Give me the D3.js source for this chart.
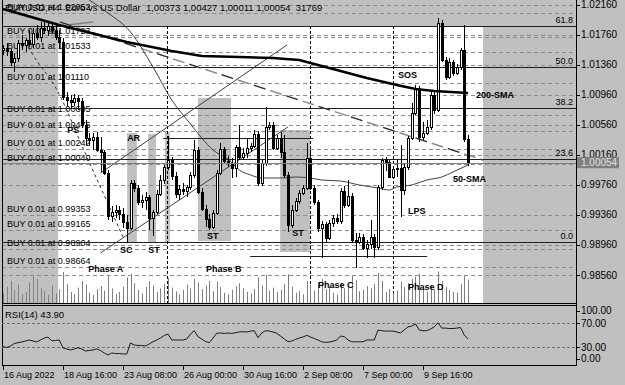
<!DOCTYPE html>
<html>
<head>
<meta charset="utf-8">
<script src="https://cdn.jsdelivr.net/npm/d3@7"></script>
<style>
  body { margin: 0; background: #c0c0c0; }
  svg { display: block; font-family: "Liberation Sans", Arial, sans-serif; }
</style>
</head>
<body>
<svg id="chart" width="625" height="385"></svg>
<script>
// EURUSD H4, one value per bar (16 Aug 2022 00:00 onwards)
const opens = [1.01554,1.01581,1.01541,1.01395,1.01448,1.01648,1.01621,1.01688,1.01634,1.01781,
  1.01728,1.01847,1.01821,1.01874,1.01821,1.01728,1.01661,1.00929,1.00889,1.00862,
  1.00916,1.00876,1.00556,1.00383,1.00357,1.00397,1.00223,1.00197,0.99917,0.99345,
  0.99398,0.99425,0.99372,0.99265,0.99185,0.99784,0.99718,0.99531,0.99558,0.99598,
  0.99318,0.99398,0.99638,0.99824,0.99997,1.00090,0.99877,0.99638,0.99704,0.99678,
  0.99731,0.99891,1.00223,0.99664,0.99438,0.99305,0.99199,0.99385,0.99917,1.00237,
  1.00077,1.00050,0.99984,1.00263,1.00130,1.00184,1.00250,1.00277,1.00436,0.99784,
  1.00050,1.00530,1.00556,1.00250,1.00383,1.00197,0.99891,0.99225,0.99425,0.99545,
  0.99651,0.99718,1.00117,0.99718,0.99531,0.99185,0.99239,0.99052,0.99252,0.99318,
  0.99278,0.99678,0.99491,0.99611,0.99026,0.98999,0.99066,0.98919,0.98972,0.99066,
  0.98932,0.99731,1.00090,1.00064,0.99864,0.99971,0.99984,0.99691,0.99997,1.00383,
  1.00716,1.01035,1.00397,1.00450,1.00530,1.00956,1.00756,1.01914,1.01421,1.01195,
  1.01395,1.01248,1.01328,1.01554,1.00373];
const highs = [1.01621,1.01648,1.01568,1.01515,1.01688,1.01754,1.01714,1.01821,1.01847,1.01887,
  1.01927,1.01954,1.01940,1.01927,1.01901,1.01821,1.01714,1.00995,1.00956,1.00969,
  1.00956,1.00916,1.00623,1.00450,1.00450,1.00463,1.00397,1.00223,0.99957,0.99478,
  0.99491,0.99478,0.99451,0.99358,0.99824,0.99824,0.99758,0.99625,0.99664,0.99625,
  0.99425,0.99691,0.99891,1.00024,1.00410,1.00130,0.99931,0.99758,0.99784,0.99758,
  0.99931,1.00357,1.00263,0.99718,0.99491,0.99372,0.99425,0.99957,1.00317,1.00263,
  1.00144,1.00117,1.00290,1.00556,1.00250,1.00383,1.00317,1.00490,1.00476,1.00090,
  1.00796,1.00596,1.00596,1.00423,1.00463,1.00423,0.99931,0.99491,0.99585,0.99691,
  0.99758,1.00317,1.00223,0.99758,0.99558,0.99278,0.99265,0.99292,0.99358,0.99372,
  0.99718,0.99744,0.99824,0.99651,0.99119,0.99119,0.99106,0.99026,0.99292,0.99106,
  0.99758,1.00117,1.00130,1.00090,0.99997,1.00090,1.00290,1.00037,1.00410,1.00849,
  1.01089,1.01075,1.00596,1.00623,1.01022,1.00995,1.01980,1.01954,1.01461,1.01448,
  1.01421,1.01368,1.01581,1.01887,1.00427];
const lows = [1.01488,1.01475,1.01342,1.01262,1.01395,1.01554,1.01528,1.01594,1.01581,1.01688,
  1.01661,1.01767,1.01741,1.01767,1.01688,1.01581,1.00889,1.00809,1.00783,1.00809,
  1.00756,1.00516,1.00290,1.00290,1.00223,1.00197,0.99931,0.99891,0.99292,0.99265,
  0.99318,0.99292,0.99185,0.98986,0.99159,0.99664,0.99491,0.99451,0.99425,0.99159,
  0.99079,0.99372,0.99611,0.99771,0.99957,0.99824,0.99585,0.99558,0.99625,0.99598,
  0.99691,0.99851,0.99638,0.99412,0.99199,0.99159,0.99172,0.99358,0.99891,1.00037,
  0.99997,0.99851,0.99864,1.00090,1.00090,1.00117,1.00197,1.00250,0.99744,0.99744,
  1.00011,1.00490,1.00223,1.00223,1.00117,0.99851,0.99132,0.99185,0.99398,0.99505,
  0.99625,0.99691,0.99691,0.99491,0.99132,0.98786,0.98999,0.99026,0.99199,0.99239,
  0.99239,0.99451,0.99465,0.98986,0.98653,0.98972,0.98892,0.98786,0.98906,0.98786,
  0.98892,0.99691,0.99944,0.99851,0.99837,0.99864,0.99332,0.99625,0.99957,1.00357,
  1.00689,1.00330,1.00357,1.00423,1.00490,1.00703,1.00729,1.01395,1.01155,1.01169,
  1.01208,1.01222,1.01288,1.00330,1.00011];
const closes = [1.01581,1.01541,1.01395,1.01448,1.01648,1.01621,1.01688,1.01634,1.01781,1.01728,
  1.01847,1.01821,1.01874,1.01821,1.01728,1.01661,1.00929,1.00889,1.00862,1.00916,
  1.00876,1.00556,1.00383,1.00357,1.00397,1.00223,1.00197,0.99917,0.99345,0.99398,
  0.99425,0.99372,0.99265,0.99185,0.99784,0.99718,0.99531,0.99558,0.99598,0.99318,
  0.99398,0.99638,0.99824,0.99997,1.00090,0.99877,0.99638,0.99704,0.99678,0.99731,
  0.99891,1.00223,0.99664,0.99438,0.99305,0.99199,0.99385,0.99917,1.00237,1.00077,
  1.00050,0.99984,1.00263,1.00130,1.00184,1.00250,1.00277,1.00436,0.99784,1.00050,
  1.00530,1.00556,1.00250,1.00383,1.00197,0.99891,0.99225,0.99425,0.99545,0.99651,
  0.99718,1.00117,0.99718,0.99531,0.99185,0.99239,0.99052,0.99252,0.99318,0.99278,
  0.99678,0.99491,0.99611,0.99026,0.98999,0.99066,0.98919,0.98972,0.99066,0.98932,
  0.99731,1.00090,1.00064,0.99864,0.99971,0.99984,0.99691,0.99997,1.00383,1.00716,
  1.01035,1.00397,1.00450,1.00530,1.00956,1.00756,1.01914,1.01421,1.01195,1.01395,
  1.01248,1.01328,1.01554,1.00373,1.00054];
const volumes = [14000,22000,30000,18000,25000,12000,15000,28000,36000,33000,
  20000,16000,11000,24000,13000,19000,42000,26000,15000,12000,
  21000,30000,25000,14000,11000,19000,23000,17000,38000,20000,
  12000,15000,22000,35000,40000,27000,18000,13000,22000,30000,
  24000,15000,20000,26000,34000,21000,16000,12000,18000,25000,
  20000,33000,28000,19000,24000,30000,16000,29000,22000,14000,
  12000,18000,23000,27000,20000,15000,13000,19000,35000,24000,
  38000,17000,21000,15000,18000,26000,39000,22000,14000,16000,
  12000,30000,25000,17000,28000,33000,19000,22000,14000,11000,
  27000,20000,24000,37000,31000,16000,18000,23000,20000,26000,
  41000,30000,15000,19000,13000,17000,29000,22000,27000,33000,
  36000,40000,21000,16000,24000,19000,43000,30000,22000,18000,
  15000,14000,26000,38000,31769];
const rsi = [30.8,29.4,32.0,36.0,37.5,38.7,40.3,42.0,40.3,38.7,
  42.0,45.4,47.0,40.8,41.2,42.0,28.6,26.9,25.2,26.9,
  29.0,26.9,23.5,24.4,25.2,26.9,24.4,20.2,16.8,20.2,
  19.3,19.3,18.5,18.5,37.0,33.6,32.8,32.8,32.0,35.3,
  39.2,42.0,45.4,49.6,52.0,42.0,42.0,42.0,42.0,43.7,
  52.0,57.6,47.6,43.7,39.5,37.5,45.4,53.3,53.8,53.0,
  53.8,53.0,54.3,55.5,56.0,55.5,57.0,57.6,45.9,53.8,
  57.6,57.0,55.5,53.3,48.7,43.7,39.2,40.3,42.9,45.4,
  47.0,50.0,47.0,44.5,42.0,39.0,38.0,38.5,40.0,42.0,
  48.7,47.6,42.0,39.0,39.0,39.0,39.0,42.0,42.0,42.0,
  58.8,57.6,57.0,57.0,57.0,55.5,53.8,58.8,64.0,65.5,
  68.9,58.8,57.6,57.6,60.5,64.0,71.0,62.0,62.0,61.3,
  61.3,62.0,63.0,50.4,43.9];

// moving averages at a few bars
const ma200Bars = [0,15,33,45,53,63,72,79,85,91,97,105,110,115,124];
const ma200Vals = [1.02100,1.01887,1.01661,1.01541,1.01475,1.01461,1.01448,1.01421,1.01342,1.01262,1.01182,1.01089,1.01035,1.01009,1.00982];
const ma50Bars = [23,28,34,40,45,50,53,56,60,63,66,69,74,78,82,85,90,95,100,103,105,109,113,117,120,124];
const ma50Vals = [1.02220,1.02047,1.01794,1.01328,1.00889,1.00570,1.00383,1.00223,1.00104,0.99957,0.99891,0.99851,0.99851,0.99864,0.99851,0.99824,0.99811,0.99758,0.99718,0.99691,0.99731,0.99758,0.99824,0.99864,0.99931,1.00024];

// axis ticks and labels
const priceTicks = [1.0216,1.0176,1.0136,1.0096,1.0056,1.0016,0.9976,0.9936,0.9896,0.9856];
const rsiTicks = [100,70,30,0];
const timeLabels = ["16 Aug 2022","18 Aug 16:00","23 Aug 08:00","26 Aug 00:00","30 Aug 16:00","2 Sep 08:00","7 Sep 00:00","9 Sep 16:00"];
const timeLabelBars = [0,16,32,48,64,80,96,112];

// pending orders
const buyPrices = [1.02052,1.01723,1.01533,1.01110,1.00685,1.00475,1.00242,1.00040,0.99353,0.99165,0.98904,0.98664];

// fibonacci
const fibLow = 0.99000, fibHigh = 1.03650;
const fibLevels = [61.8,50.0,38.2,23.6,0.0];
const fibPrice = lv => fibLow + (fibHigh - fibLow) * lv / 100;

// drawn objects (bar index / price)
const zone = {from: 14.7, to: 128};
const boxes = [
  {from: 33.1, to: 35.7, top: 1.00450, bottom: 0.98999},
  {from: 38.7, to: 40.8, top: 1.00436, bottom: 0.98999},
  {from: 43.2, to: 44.5, top: 1.00463, bottom: 0.98999},
  {from: 52.0, to: 60.8, top: 1.00916, bottom: 0.99012},
  {from: 73.9, to: 81.9, top: 1.00490, bottom: 0.98866}
];
const phaseLines = [43.7, 81.9, 104];
const levels = [
  {from: 42.7, to: 82.7, p: 1.00377},
  {from: 65.9, to: 113.1, p: 0.98813}
];
const trendLines = [
  {a: [26, 0.99917], b: [75.7, 1.01621]},
  {a: [26, 0.98853], b: [76, 1.00530]},
  {a: [17.1, 1.01887], b: [24, 1.01927]}
];
const longTrend = {a: [15.2, 1.01927], b: [128, 1.00090]};
const psPath = [[5.9,1.01661],[8,1.01488],[14.4,1.01022],[21.9,1.00184],[32,0.99066]];
const notes = [
  {t: "PS", i: 17.1, p: 1.00450}, {t: "AR", i: 33.1, p: 1.00343},
  {t: "SC", i: 31.2, p: 0.98853}, {t: "ST", i: 38.7, p: 0.98853},
  {t: "Phase A", i: 22.7, p: 0.98600}, {t: "ST", i: 54.4, p: 0.99039},
  {t: "ST", i: 77.1, p: 0.99079}, {t: "Phase B", i: 54.1, p: 0.98600},
  {t: "Phase C", i: 84, p: 0.98387}, {t: "Phase D", i: 108, p: 0.98360},
  {t: "LPS", i: 108, p: 0.99372}, {t: "SOS", i: 105.3, p: 1.01182},
  {t: "200-SMA", i: 126.1, p: 1.00916}, {t: "50-SMA", i: 120, p: 0.99797}
];

const svg = d3.select('#chart');
const left = 2, right = 576, mainBottom = 303;

const x = d3.scaleLinear().domain([0, 124]).range([3, 468]);
const y = d3.scaleLinear().domain([0.9856, 1.0216]).range([275, 4.5]);
const yR = d3.scaleLinear().domain([0, 100]).range([365, 305.5]);
const yV = d3.scaleLinear().domain([0, 45000]).range([mainBottom, 270]);
const px = v => Math.round(v) + 0.5;
const fmt = d3.format('.5f');

svg.append('rect').attr('width', 625).attr('height', 385).attr('fill', '#c0c0c0');

svg.append('defs').append('clipPath').attr('id', 'clip-main')
  .append('rect').attr('x', left).attr('y', 0).attr('width', right - left).attr('height', mainBottom);

const g = svg.append('g').attr('clip-path', 'url(#clip-main)');

// white working area
const top618 = y(fibPrice(61.8));
g.append('rect')
  .attr('x', x(zone.from)).attr('y', top618)
  .attr('width', x(zone.to) - x(zone.from)).attr('height', mainBottom - top618)
  .attr('fill', '#fff');

g.selectAll('.box').data(boxes).join('rect')
  .attr('x', d => x(d.from)).attr('y', d => y(d.top))
  .attr('width', d => x(d.to) - x(d.from)).attr('height', d => y(d.bottom) - y(d.top))
  .attr('fill', '#c0c0c0');

// grid + order lines
g.selectAll('.grid').data(priceTicks.concat(buyPrices)).join('line')
  .attr('x1', left).attr('x2', right)
  .attr('y1', d => px(y(d))).attr('y2', d => px(y(d)))
  .attr('stroke', '#8c8c8c').attr('stroke-dasharray', '4,3');

g.selectAll('.buy').data(buyPrices).join('text')
  .attr('x', 7).attr('y', d => y(d) - 3)
  .attr('font-size', 9).attr('fill', '#000')
  .text(d => 'BUY 0.01 at ' + fmt(d));

// fibonacci levels
g.selectAll('.fib').data(fibLevels).join('line')
  .attr('x1', left).attr('x2', right)
  .attr('y1', d => px(y(fibPrice(d)))).attr('y2', d => px(y(fibPrice(d))))
  .attr('stroke', '#202020');
g.selectAll('.fibt').data(fibLevels).join('text')
  .attr('x', 573).attr('y', d => y(fibPrice(d)) - 3)
  .attr('text-anchor', 'end').attr('font-size', 9).attr('fill', '#000')
  .text(d => d.toFixed(1));

// phase separators
g.selectAll('.ph').data(phaseLines).join('line')
  .attr('x1', d => px(x(d))).attr('x2', d => px(x(d)))
  .attr('y1', top618).attr('y2', mainBottom)
  .attr('stroke', '#000').attr('stroke-dasharray', '3,2');

// volumes
g.selectAll('.vol').data(volumes).join('line')
  .attr('x1', (d, i) => px(x(i))).attr('x2', (d, i) => px(x(i)))
  .attr('y1', mainBottom).attr('y2', d => yV(d))
  .attr('stroke', '#808080');

// support / resistance
g.selectAll('.lvl').data(levels).join('line')
  .attr('x1', d => x(d.from)).attr('x2', d => x(d.to))
  .attr('y1', d => px(y(d.p))).attr('y2', d => px(y(d.p)))
  .attr('stroke', '#202020');

// channel lines
g.selectAll('.tl').data(trendLines).join('line')
  .attr('x1', d => x(d.a[0])).attr('y1', d => y(d.a[1]))
  .attr('x2', d => x(d.b[0])).attr('y2', d => y(d.b[1]))
  .attr('stroke', (d, i) => i === 2 ? '#808080' : '#404040')
  .attr('stroke-width', (d, i) => i === 2 ? 1.5 : 1);

// long dashed trendline, grey and dark dashes
g.append('line')
  .attr('x1', x(longTrend.a[0])).attr('y1', y(longTrend.a[1]))
  .attr('x2', x(longTrend.b[0])).attr('y2', y(longTrend.b[1]))
  .attr('stroke', '#8c8c8c').attr('stroke-width', 1.5).attr('stroke-dasharray', '12,5');
g.append('line')
  .attr('x1', x(longTrend.a[0])).attr('y1', y(longTrend.a[1]))
  .attr('x2', x(longTrend.b[0])).attr('y2', y(longTrend.b[1]))
  .attr('stroke', '#202020').attr('stroke-width', 1).attr('stroke-dasharray', '12,22');

g.append('path')
  .attr('d', d3.line().x(d => x(d[0])).y(d => y(d[1])).curve(d3.curveMonotoneX)(psPath))
  .attr('fill', 'none').attr('stroke', '#303030').attr('stroke-dasharray', '3,3');

// 50 SMA
g.append('path')
  .attr('d', d3.line().x((d, k) => x(ma50Bars[k])).y(d => y(d)).curve(d3.curveMonotoneX)(ma50Vals))
  .attr('fill', 'none').attr('stroke', '#404040').attr('stroke-width', 1);

// candles
const bars = d3.range(opens.length).map(i => ({i, o: opens[i], h: highs[i], l: lows[i], c: closes[i]}));
g.selectAll('.wick').data(bars).join('line')
  .attr('x1', d => px(x(d.i))).attr('x2', d => px(x(d.i)))
  .attr('y1', d => Math.round(y(d.h))).attr('y2', d => Math.round(y(d.l)))
  .attr('stroke', '#000');
g.selectAll('.body').data(bars).join('rect')
  .attr('x', d => px(x(d.i)) - 1)
  .attr('y', d => Math.round(y(Math.max(d.o, d.c))) + 0.5)
  .attr('width', 2)
  .attr('height', d => Math.max(1, Math.round(Math.abs(y(d.o) - y(d.c)))))
  .attr('fill', d => d.c >= d.o ? '#fff' : '#000')
  .attr('stroke', '#000');

// 200 SMA
g.append('path')
  .attr('d', d3.line().x((d, k) => x(ma200Bars[k])).y(d => y(d))(ma200Vals))
  .attr('fill', 'none').attr('stroke', '#000').attr('stroke-width', 2.5);

// bid line
const last = bars[bars.length - 1];
g.append('line')
  .attr('x1', left).attr('x2', right)
  .attr('y1', px(y(last.c))).attr('y2', px(y(last.c)))
  .attr('stroke', '#808080');

// wyckoff notes
g.selectAll('.note').data(notes).join('text')
  .attr('x', d => x(d.i)).attr('y', d => y(d.p))
  .attr('font-size', 9).attr('font-weight', 'bold').attr('fill', '#000')
  .text(d => d.t);

// title
const comma = v => fmt(v).replace('.', ',');
g.append('text').attr('x', 5).attr('y', 11).attr('font-size', 9.5).attr('fill', '#000')
  .attr('xml:space', 'preserve')
  .text(`EURUSD,H4  Euro vs US Dollar  ${comma(last.o)} ${comma(last.h)} ${comma(last.l)} ${comma(last.c)}  ${volumes[volumes.length - 1]}`);

// frame
const frame = svg.append('g').attr('stroke', '#000').attr('fill', 'none');
frame.append('line').attr('x1', 2.5).attr('x2', 2.5).attr('y1', 0).attr('y2', 366);
frame.append('line').attr('x1', right + 0.5).attr('x2', right + 0.5).attr('y1', 0).attr('y2', 366);
frame.append('line').attr('x1', 2).attr('x2', right + 1).attr('y1', mainBottom + 0.5).attr('y2', mainBottom + 0.5);
frame.append('line').attr('x1', 2).attr('x2', right + 1).attr('y1', 305.5).attr('y2', 305.5);
frame.append('line').attr('x1', 2).attr('x2', right + 1).attr('y1', 365.5).attr('y2', 365.5);

// price axis
const pa = svg.append('g');
pa.selectAll('line').data(priceTicks).join('line')
  .attr('x1', right).attr('x2', right + 4)
  .attr('y1', d => px(y(d))).attr('y2', d => px(y(d))).attr('stroke', '#000');
pa.selectAll('text').data(priceTicks).join('text')
  .attr('x', right + 5).attr('y', d => y(d) + 3.5)
  .attr('font-size', 10).attr('fill', '#000').text(d => fmt(d));

// current price tag
pa.append('rect').attr('x', right + 1).attr('y', y(last.c) - 5.5).attr('width', 42).attr('height', 11).attr('fill', '#808080');
pa.append('text').attr('x', right + 5).attr('y', y(last.c) + 3.5)
  .attr('font-size', 10).attr('fill', '#e0e0e0').text(fmt(last.c));

// RSI pane
const r = svg.append('g');
r.selectAll('.lv').data([70, 30]).join('line')
  .attr('x1', left).attr('x2', right)
  .attr('y1', d => px(yR(d))).attr('y2', d => px(yR(d)))
  .attr('stroke', '#707070').attr('stroke-dasharray', '3,2');
r.append('path')
  .attr('d', d3.line().x((d, i) => x(i)).y(d => yR(d))(rsi))
  .attr('fill', 'none').attr('stroke', '#1a1a1a').attr('stroke-width', 1);
r.append('text').attr('x', 5).attr('y', 318).attr('font-size', 9.5).attr('fill', '#000')
  .text('RSI(14) ' + rsi[rsi.length - 1].toFixed(2));
const rsiLabelY = d => Math.min(362, Math.max(314, yR(d) + 3.5));
r.selectAll('.rt').data(rsiTicks).join('line')
  .attr('x1', right).attr('x2', right + 4)
  .attr('y1', d => px(rsiLabelY(d) - 3.5)).attr('y2', d => px(rsiLabelY(d) - 3.5)).attr('stroke', '#000');
r.selectAll('.rl').data(rsiTicks).join('text')
  .attr('x', right + 5).attr('y', rsiLabelY)
  .attr('font-size', 10).attr('fill', '#000').text(d => d.toFixed(2));

// time axis
const ta = svg.append('g');
ta.selectAll('line').data(timeLabelBars).join('line')
  .attr('x1', d => px(x(d))).attr('x2', d => px(x(d)))
  .attr('y1', 366).attr('y2', 370).attr('stroke', '#000');
ta.selectAll('text').data(timeLabelBars).join('text')
  .attr('x', d => x(d) + 1).attr('y', 378)
  .attr('font-size', 9).attr('fill', '#000')
  .text((d, k) => timeLabels[k]);
</script>
</body>
</html>
